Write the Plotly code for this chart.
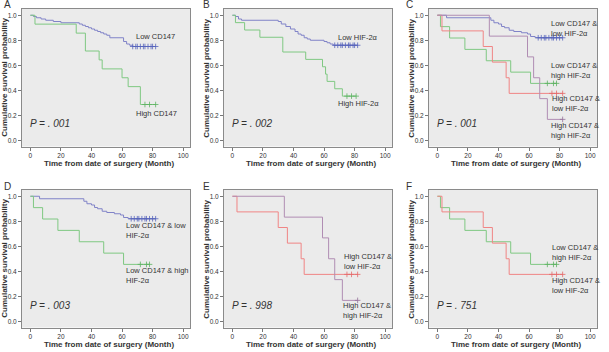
import plotly.graph_objects as go

W, H = 609, 352

# ---------------- data ----------------
# Panel A
A_LOW_T = [0, 2, 4, 7, 10, 15, 20, 32, 34, 36, 38, 40, 42, 44, 46, 48, 50, 52, 61, 63, 65, 67]
A_LOW_S = [1.00, 0.99, 0.98, 0.97, 0.96, 0.95, 0.94, 0.93, 0.92, 0.91, 0.90, 0.89, 0.88, 0.87, 0.86, 0.85, 0.84, 0.82, 0.79, 0.77, 0.76, 0.75]
A_LOW_C = [67, 69, 70, 72, 74, 75, 77, 79, 80, 82]
A_HIGH_T = [0, 3, 30, 36, 45, 47, 60, 64, 72]
A_HIGH_S = [1.0, 0.929, 0.857, 0.714, 0.643, 0.571, 0.5, 0.429, 0.286]
A_HIGH_C = [75, 78, 82]

# Panel B
B_LOW_T = [0, 2, 4, 6, 30, 32, 35, 38, 41, 43, 45, 47, 49, 51, 60, 62, 64, 66]
B_LOW_S = [1.00, 0.99, 0.97, 0.96, 0.95, 0.93, 0.91, 0.89, 0.87, 0.85, 0.84, 0.82, 0.81, 0.80, 0.79, 0.78, 0.77, 0.76]
B_LOW_C = [67, 69, 71, 72, 74, 76, 77, 79, 80, 82]
B_HIGH_T = [0, 2, 8, 18, 33, 48, 59, 61, 62, 67, 72]
B_HIGH_S = [1.0, 0.941, 0.882, 0.824, 0.706, 0.647, 0.588, 0.529, 0.471, 0.412, 0.353]
B_HIGH_C = [75, 78, 81]

# Combined groups (panels C-F)
LL_T = [0, 6, 35, 37, 40, 42, 44, 47, 50, 55, 59, 61, 64]
LL_S = [1.00, 0.98, 0.96, 0.94, 0.93, 0.91, 0.90, 0.88, 0.87, 0.86, 0.85, 0.83, 0.82]
LL_C = [66, 68, 70, 71, 73, 75, 76, 78, 80, 82]
LH_T = [0, 2, 8, 18, 32, 48, 61]
LH_S = [1.0, 0.909, 0.818, 0.727, 0.636, 0.545, 0.455]
LH_C = [72, 76, 78]
HL_T = [0, 3, 30, 36, 45, 47]
HL_S = [1.0, 0.875, 0.75, 0.625, 0.5, 0.375]
HL_C = [75, 78, 82]
HH_T = [0, 34, 59, 63, 67, 72]
HH_S = [1.0, 0.833, 0.667, 0.5, 0.333, 0.167]
HH_C = [82]

X_TICKS = [0, 20, 40, 60, 80, 100]
Y_TICKS = [0.0, 0.2, 0.4, 0.6, 0.8, 1.0]
Y_TICKTEXT = ["0.0", "0.2", "0.4", "0.6", "0.8", "1.0"]
P_VALUES = ["P = . 001", "P = . 002", "P = . 001", "P = . 003", "P = . 998", "P = . 751"]
PANEL_LETTERS = ["A", "B", "C", "D", "E", "F"]

BLUE = "#8083c8"
BLUE_C = "#5563bb"
GREEN = "#7fc882"
GREEN_C = "#5db362"
RED = "#f08585"
RED_C = "#e46a6a"
PURPLE = "#b08db3"
PURPLE_C = "#95729a"

FONT = "Arial, Liberation Sans, sans-serif"
TXT = "#333333"

# panel boxes in pixels: (left, right, top, bottom)
COLS = [(22, 190), (224, 392), (429, 597)]
LETTER_X = [2, 201, 404]
ROWS = [(9, 146.5), (190, 327.5)]

fig = go.Figure()

panel_series = [
    [(A_LOW_T, A_LOW_S, A_LOW_C, BLUE, BLUE_C), (A_HIGH_T, A_HIGH_S, A_HIGH_C, GREEN, GREEN_C)],
    [(B_LOW_T, B_LOW_S, B_LOW_C, BLUE, BLUE_C), (B_HIGH_T, B_HIGH_S, B_HIGH_C, GREEN, GREEN_C)],
    [(LL_T, LL_S, LL_C, BLUE, BLUE_C), (LH_T, LH_S, LH_C, GREEN, GREEN_C),
     (HL_T, HL_S, HL_C, RED, RED_C), (HH_T, HH_S, HH_C, PURPLE, PURPLE_C)],
    [(LL_T, LL_S, LL_C, BLUE, BLUE_C), (LH_T, LH_S, LH_C, GREEN, GREEN_C)],
    [(HL_T, HL_S, HL_C, RED, RED_C), (HH_T, HH_S, HH_C, PURPLE, PURPLE_C)],
    [(LH_T, LH_S, LH_C, GREEN, GREEN_C), (HL_T, HL_S, HL_C, RED, RED_C)],
]

# labels: (text, x, y) in data coords, left aligned
panel_labels = [
    [("Low CD147", 68, 0.83), ("High CD147", 68, 0.21)],
    [("Low HIF-2α", 68, 0.82), ("High HIF-2α", 68, 0.29)],
    [("Low CD147 &<br>low HIF-2α", 73, 0.89), ("Low CD147 &<br>high HIF-2α", 73, 0.555),
     ("High CD147 &<br>low HIF-2α", 74, 0.29), ("High CD147 &<br>high HIF-2α", 73, 0.075)],
    [("Low CD147 & low<br>HIF-2α", 61, 0.725), ("Low CD147 & high<br>HIF-2α", 61, 0.37)],
    [("High CD147 &<br>low HIF-2α", 72, 0.475), ("High CD147 &<br>high HIF-2α", 71, 0.09)],
    [("Low CD147 &<br>high HIF-2α", 74, 0.55), ("High CD147 &<br>low HIF-2α", 74, 0.285)],
]


def step_xy(t, s, cens):
    end = max(cens) if cens else t[-1]
    xs = list(t) + [end]
    ys = list(s) + [s[-1]]
    return xs, ys


def surv_at(t, s, x):
    val = s[0]
    for ti, si in zip(t, s):
        if ti <= x:
            val = si
    return val


annotations = []
for i in range(6):
    r, c = divmod(i, 3)
    left, right = COLS[c]
    top, bottom = ROWS[r]
    ax = "" if i == 0 else str(i + 1)
    xa = "x" + ax
    ya = "y" + ax
    fig.layout["xaxis" + ax] = dict(
        domain=[left / W, right / W], anchor=ya, range=[-5.5, 104.5],
        tickvals=X_TICKS, ticks="outside", ticklen=3, tickcolor="#777", tickwidth=1,
        showline=True, mirror=True, linecolor="#8a8a8a", linewidth=1,
        showgrid=False, zeroline=False, tickfont=dict(size=6.5, color=TXT, family=FONT),
        fixedrange=True,
    )
    fig.layout["yaxis" + ax] = dict(
        domain=[1 - bottom / H, 1 - top / H], anchor=xa, range=[-0.05, 1.05],
        tickvals=Y_TICKS, ticktext=Y_TICKTEXT, ticks="outside", ticklen=3, tickcolor="#777",
        tickwidth=1, showline=True, mirror=True, linecolor="#8a8a8a", linewidth=1,
        showgrid=False, zeroline=False, tickfont=dict(size=6.5, color=TXT, family=FONT),
        fixedrange=True,
    )
    for (t, s, cens, col, ccol) in panel_series[i]:
        xs, ys = step_xy(t, s, cens)
        fig.add_trace(go.Scatter(x=xs, y=ys, mode="lines", line=dict(color=col, width=1, shape="hv"),
                                 xaxis=xa, yaxis=ya, showlegend=False, hoverinfo="skip"))
        fig.add_trace(go.Scatter(x=cens, y=[surv_at(t, s, cx) for cx in cens], mode="markers",
                                 marker=dict(symbol="cross-thin", size=4, line=dict(color=ccol, width=0.8)),
                                 xaxis=xa, yaxis=ya, showlegend=False, hoverinfo="skip"))
    # curve labels
    for (txt, lx, ly) in panel_labels[i]:
        annotations.append(dict(text=txt, x=lx, y=ly, xref=xa, yref=ya, xanchor="left", yanchor="middle",
                                align="left", showarrow=False, font=dict(size=7.5, color=TXT, family=FONT)))
    # p value
    annotations.append(dict(text="<i>" + P_VALUES[i] + "</i>", x=-1.5, y=0.13, xref=xa, yref=ya,
                            xanchor="left", yanchor="middle", showarrow=False,
                            font=dict(size=10, color=TXT, family=FONT)))
    # panel letter
    annotations.append(dict(text=PANEL_LETTERS[i], x=LETTER_X[c] / W, y=1 - (top - 4) / H,
                            xref="paper", yref="paper", xanchor="left", yanchor="middle",
                            showarrow=False, font=dict(size=10, color=TXT, family=FONT)))
    # axis titles
    annotations.append(dict(text="<b>Time from date of surgery (Month)</b>",
                            x=((left + right) / 2 + 3) / W, y=1 - (bottom + 17) / H,
                            xref="paper", yref="paper", xanchor="center", yanchor="middle",
                            showarrow=False, font=dict(size=8, color=TXT, family=FONT)))
    annotations.append(dict(text="<b>Cumulative survival probability</b>", textangle=-90,
                            x=(left - 17) / W, y=1 - ((top + bottom) / 2) / H,
                            xref="paper", yref="paper", xanchor="center", yanchor="middle",
                            showarrow=False, font=dict(size=8, color=TXT, family=FONT)))

fig.update_layout(
    width=W, height=H, margin=dict(l=0, r=0, t=0, b=0),
    paper_bgcolor="white", plot_bgcolor="#ebebeb",
    annotations=annotations, showlegend=False,
)

fig.write_html("out.html", config={"displayModeBar": False})
